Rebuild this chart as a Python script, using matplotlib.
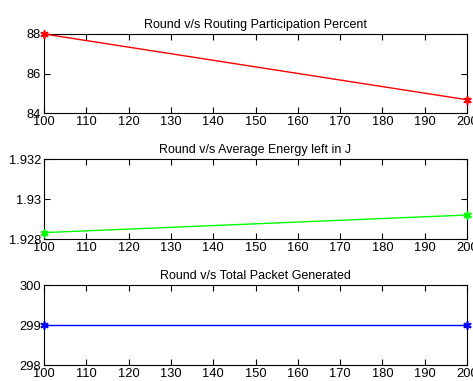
import matplotlib
matplotlib.use('Agg')
import matplotlib.pyplot as plt

DPI = 100

rounds = [100, 200]
participation = [88.0, 84.67]
energy = [1.92832, 1.92920]
packets = [299, 299]

titles = ['Round v/s Routing Participation Percent',
          'Round v/s Average Energy left in J',
          'Round v/s Total Packet Generated']
colors = ['#ff0000', '#00ff00', '#0000ff']
ylims = [(84, 88), (1.928, 1.932), (298, 300)]
yticks = [[84, 86, 88], [1.928, 1.930, 1.932], [298, 299, 300]]
yticklabels = [['84', '86', '88'], ['1.928', '1.93', '1.932'], ['298', '299', '300']]
xticks = list(range(100, 201, 10))

plt.rcParams['font.family'] = ['Liberation Sans', 'DejaVu Sans']

fig = plt.figure(figsize=(473/DPI, 381/DPI), dpi=DPI)
W, H = 473.0, 381.0
boxes = [(34, 113), (159, 239), (285, 365)]  # top / bottom in pixels
left, right = 44, 467

for i, ys in enumerate([participation, energy, packets]):
    top, bot = boxes[i]
    ax = fig.add_axes([left/W, 1 - bot/H, (right-left)/W, (bot-top)/H])
    # (6, 2, 0) gives an asterisk like the matlab '*' marker
    ax.plot(rounds, ys, color=colors[i], marker=(6, 2, 0), markersize=6,
            markeredgewidth=1.2, linewidth=1, clip_on=False, zorder=5)
    ax.set_xlim(100, 200)
    ax.set_ylim(*ylims[i])
    ax.set_xticks(xticks)
    ax.set_yticks(yticks[i])
    ax.set_yticklabels(yticklabels[i])
    ax.tick_params(direction='in', top=True, right=True, length=4, width=0.8,
                   labelsize=9.3, pad=2)
    ax.set_title(titles[i], fontsize=9, pad=4)
    for s in ax.spines.values():
        s.set_linewidth(0.8)

fig.savefig('out.png', dpi=DPI)
